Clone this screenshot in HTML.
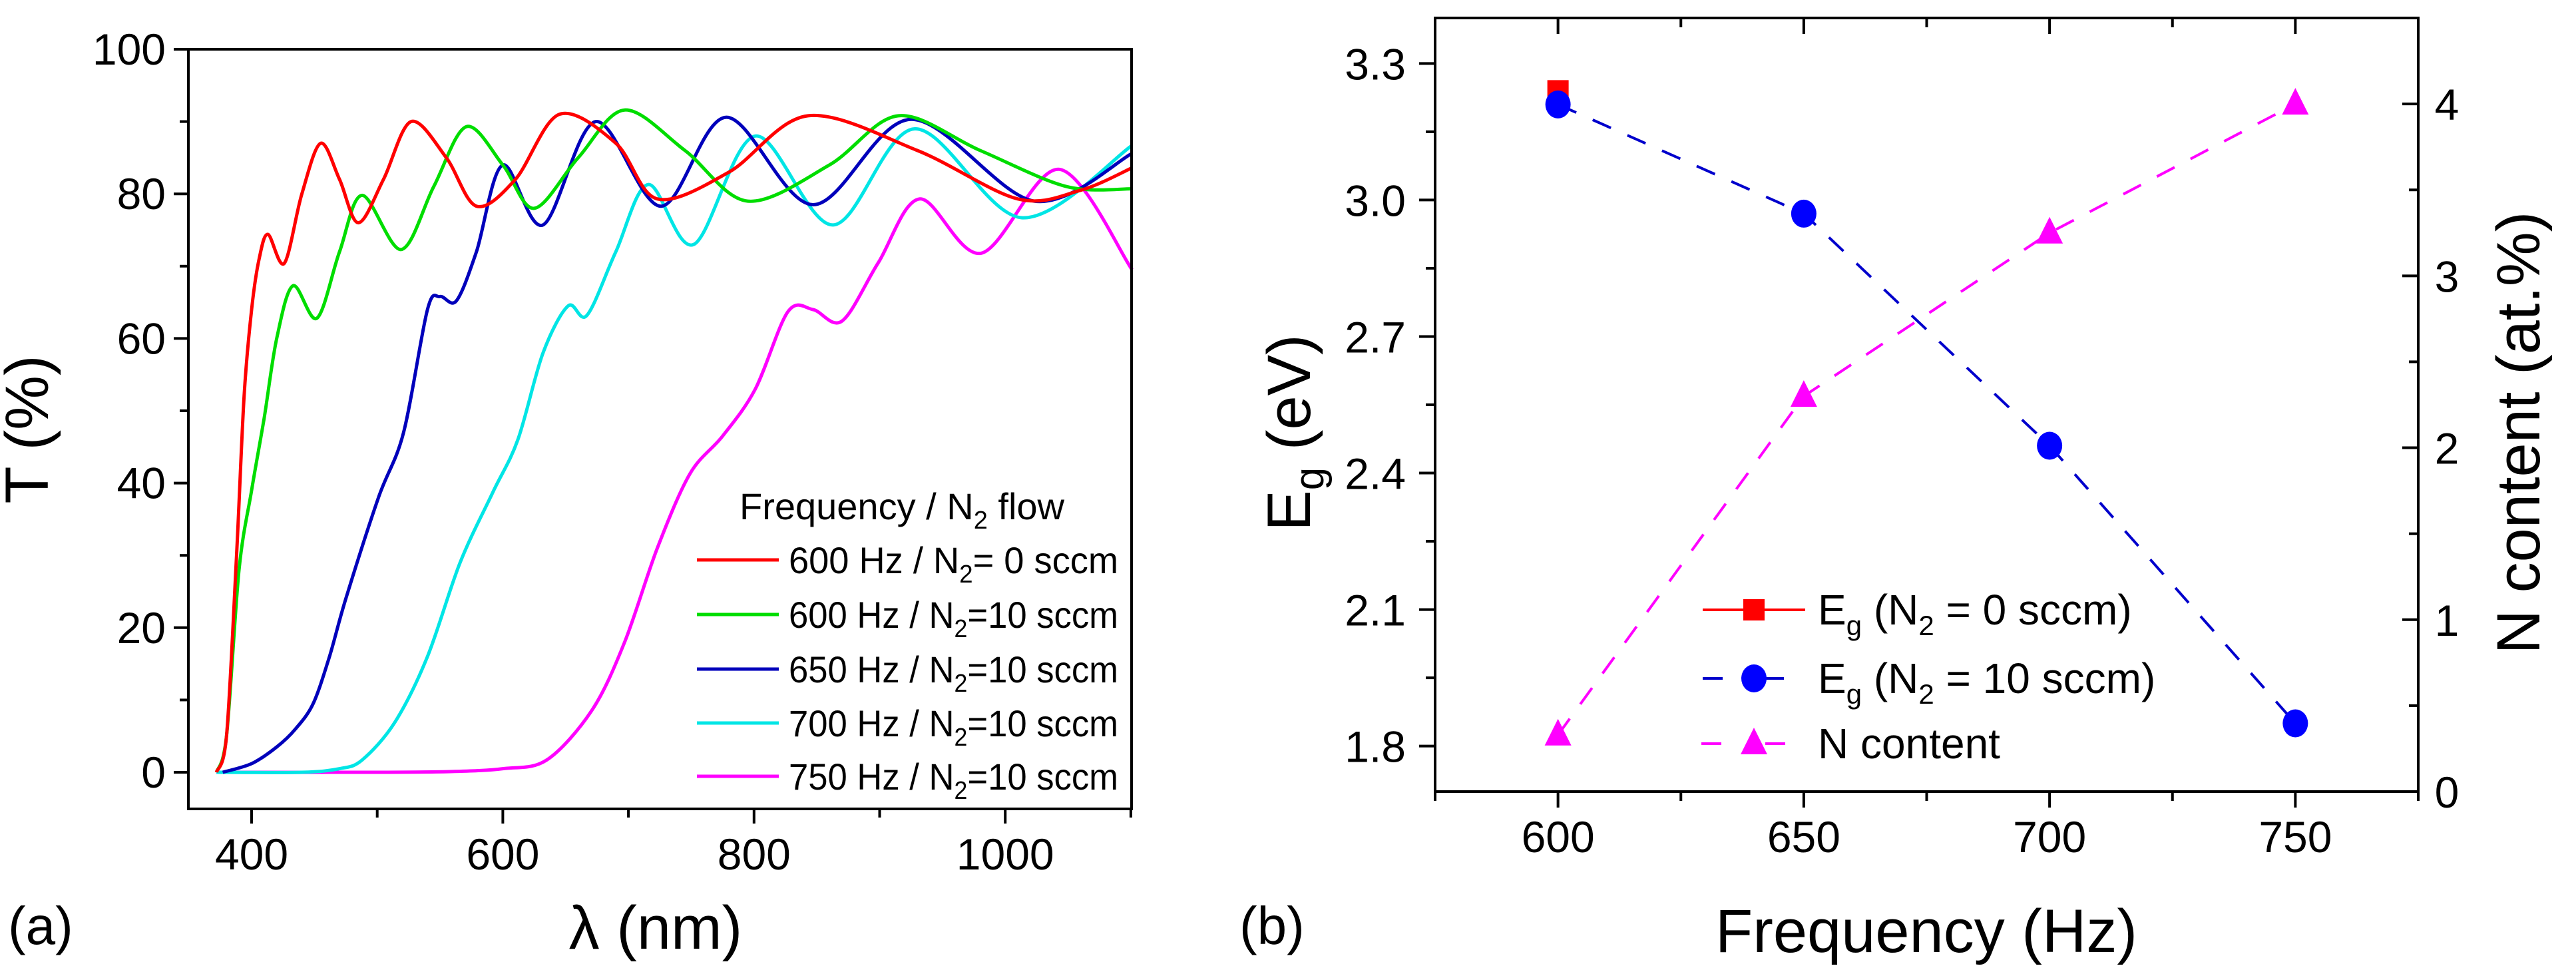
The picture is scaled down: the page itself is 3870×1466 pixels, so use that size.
<!DOCTYPE html>
<html><head><meta charset="utf-8"><style>
html,body{margin:0;padding:0;background:#fff;}
svg{display:block;font-family:"Liberation Sans",Arial,sans-serif;}
</style></head><body>
<svg id="fig" width="3870" height="1466" viewBox="0 0 3870 1466" xmlns="http://www.w3.org/2000/svg">
<g id="panelA"></g>
<g id="panelB"></g>
<text x="12" y="1418" font-size="80">(a)</text>
<text x="1862" y="1418" font-size="80">(b)</text>
</svg>
<script>
// ---------- Panel A data ----------
const aXTicks = [400,600,800,1000];
const aYTicks = [0,20,40,60,80,100];
const seriesNames = ["600 Hz / N2= 0 sccm","600 Hz / N2=10 sccm","650 Hz / N2=10 sccm","700 Hz / N2=10 sccm","750 Hz / N2=10 sccm"];
const seriesColors = ["#ff0000","#00dd00","#0000bb","#00e5e5","#ff00ff"];
const redLambda = [372,380,388,394,400,406,413,426,440,455,470,485,505,527,555,579,610,645,690,723,780,843,930,1010,1060,1101];
const redT      = [0,5,30,52,64,71,74.4,70.4,80,87,82,76,82,90,85,78.3,82,91,87,79.3,83,90.8,86,79.3,80.5,83.6];
const greenLambda = [372,380,390,400,410,420,433,452,470,488,519,545,571,600,625,660,697,745,795,860,915,980,1049,1101];
const greenT      = [0,5,28,39,49,60,67.3,62.8,72,79.8,72.3,81,89.3,84,78,85,91.6,86,79,84,90.8,86,81,80.7];
const blueLambda = [377,400,420,435,449,462,475,501,521,540,550,563,579,600,632,674,726,778,847,925,1023,1101];
const blueT      = [0,1.2,3.5,6,9.5,16,24,38,47,64,65.8,65.2,72,84,75.7,90,78.3,90.6,78.5,90.3,79,85.6];
const cyanLambda = [372,440,470,488,514,540,566,592,612,632,652,667,690,716,752,801,863,928,1013,1101];
const cyanT      = [0,0,0.5,1.7,6.9,16,29,38.7,46,58,64.5,63.2,72,81.3,73,88,75.7,89,76.7,86.7];
const magLambda = [372,500,560,600,635,671,697,723,749,775,801,827,847,870,899,932,981,1043,1101];
const magT      = [0,0,0.1,0.5,1.7,8.6,18,31,41.3,46.5,53,63.7,64,62.4,70.5,79.3,71.8,83.4,69.5];
// ---------- Panel B data ----------
const freqs = [600,650,700,750];
const eg0Freq = [600];
const eg0Vals = [3.24];
const eg10Vals = [3.21,2.97,2.46,1.85];
const nContent = [0.33,2.3,3.25,4.0];
const bXTicks = [600,650,700,750];
const bYTicks = [1.8,2.1,2.4,2.7,3.0,3.3];
const bYTickLabels = ["1.8","2.1","2.4","2.7","3.0","3.3"];
const bY2Ticks = [0,1,2,3,4];

const NS="http://www.w3.org/2000/svg";
function mk(tag, attrs, parent){const e=document.createElementNS(NS,tag);for(const k in attrs)e.setAttribute(k,attrs[k]);parent.appendChild(e);return e;}
function spline(pts){
  let d="M"+pts[0][0].toFixed(1)+","+pts[0][1].toFixed(1);
  for(let i=0;i<pts.length-1;i++){
    const p0=pts[Math.max(0,i-1)],p1=pts[i],p2=pts[i+1],p3=pts[Math.min(pts.length-1,i+2)];
    const t=0.16;
    const c1=[p1[0]+(p2[0]-p0[0])*t,p1[1]+(p2[1]-p0[1])*t];
    const c2=[p2[0]-(p3[0]-p1[0])*t,p2[1]-(p3[1]-p1[1])*t];
    d+=" C"+c1[0].toFixed(1)+","+c1[1].toFixed(1)+" "+c2[0].toFixed(1)+","+c2[1].toFixed(1)+" "+p2[0].toFixed(1)+","+p2[1].toFixed(1);
  }
  return d;
}
// ---------- Panel A ----------
const A=document.getElementById('panelA');
const aL=283,aR=1700,aT=74,aB=1215;
const ax=v=>378+(v-400)*1.887;
const ay=v=>1160-v*10.86;
const lambdas=[redLambda,greenLambda,blueLambda,cyanLambda,magLambda];
const tvals=[redT,greenT,blueT,cyanT,magT];
const curveNames=['curve-600hz-0sccm','curve-600hz-10sccm','curve-650hz-10sccm','curve-700hz-10sccm','curve-750hz-10sccm'];
for(let s=4;s>=0;s--){
  const pts=lambdas[s].map((l,i)=>[ax(l),ay(tvals[s][i])]);
  const p=mk('path',{d:spline(pts),fill:'none',stroke:seriesColors[s],'stroke-width':5,'stroke-linejoin':'round'},A);
  
  
}
const fa=mk('rect',{x:aL,y:aT,width:aR-aL,height:aB-aT,fill:'none',stroke:'#000','stroke-width':4},A);


for(let v=0;v<=100;v+=10){
  const t=mk('line',{x1:aL,x2:aL-(v%20===0?22:13),y1:ay(v),y2:ay(v),stroke:'#000','stroke-width':4},A);
  
  
}
aYTicks.forEach(v=>{
  const t=mk('text',{x:aL-34,y:ay(v)+23,'font-size':66,'text-anchor':'end'},A);t.textContent=v;
  
  
});
for(let v=400;v<=1100;v+=100){
  const t=mk('line',{x1:ax(v),x2:ax(v),y1:aB,y2:aB+(v%200===0?22:13),stroke:'#000','stroke-width':4},A);
  
  
}
aXTicks.forEach(v=>{
  const t=mk('text',{x:ax(v),y:1306,'font-size':66,'text-anchor':'middle'},A);t.textContent=v;
  
  
});
const yt=mk('text',{x:0,y:0,'font-size':92,'text-anchor':'middle',transform:'translate(72,645) rotate(-90)'},A);yt.textContent='T (%)';


const xt=mk('text',{x:985,y:1425,'font-size':92,'text-anchor':'middle'},A);xt.textContent='λ (nm)';


const lg=mk('g',{},A);


const lt=mk('text',{x:1111,y:780,'font-size':56},lg);
lt.innerHTML='Frequency / N<tspan font-size="38" dy="14">2</tspan><tspan dy="-14"> flow</tspan>';


const legY=[841,923,1005,1086,1166];
const legTxt=[["600 Hz / N","= 0 sccm"],["600 Hz / N","=10 sccm"],["650 Hz / N","=10 sccm"],["700 Hz / N","=10 sccm"],["750 Hz / N","=10 sccm"]];
for(let i=0;i<5;i++){
  const ln=mk('line',{x1:1047,x2:1170,y1:legY[i],y2:legY[i],stroke:seriesColors[i],'stroke-width':5},lg);
  
  
  const tx=mk('text',{x:1185,y:legY[i]+20,'font-size':56,textLength:495,lengthAdjust:'spacingAndGlyphs'},lg);
  tx.innerHTML=legTxt[i][0]+'<tspan font-size="38" dy="14">2</tspan><tspan dy="-14">'+legTxt[i][1]+'</tspan>';
  
  
}
// ---------- Panel B ----------
const B=document.getElementById('panelB');
const bL=2156,bR=3633,bT=27,bB=1189;
const bx=v=>bL+(v-575)*(bR-bL)/200;
const by=v=>bB-(v-1.7)*(bB-bT)/1.7;
const by2=v=>bB-v*(bB-bT)/4.5;
const fb=mk('rect',{x:bL,y:bT,width:bR-bL,height:bB-bT,fill:'none',stroke:'#000','stroke-width':4},B);


for(let v=575;v<=775;v+=25){
  const maj=(v%50===0);
  const t1=mk('line',{x1:bx(v),x2:bx(v),y1:bB,y2:bB+(maj?24:14),stroke:'#000','stroke-width':4},B);
  
  
  const t2=mk('line',{x1:bx(v),x2:bx(v),y1:bT,y2:bT+(maj?24:14),stroke:'#000','stroke-width':4},B);
  
  
}
bXTicks.forEach(v=>{
  const t=mk('text',{x:bx(v),y:1280,'font-size':66,'text-anchor':'middle'},B);t.textContent=v;
  
  
});
for(let k=0;k<=10;k++){
  const v=1.8+k*0.15;
  if(v>3.4)break;
  const t=mk('line',{x1:bL,x2:bL-(k%2===0?24:14),y1:by(v),y2:by(v),stroke:'#000','stroke-width':4},B);
  
  
}
bYTicks.forEach((v,i)=>{
  const t=mk('text',{x:2112,y:by(v)+24,'font-size':66,'text-anchor':'end'},B);t.textContent=bYTickLabels[i];
  
  
});
for(let v=0;v<=4.5;v+=0.5){
  const t=mk('line',{x1:bR,x2:bR-(v%1===0?24:14),y1:by2(v),y2:by2(v),stroke:'#000','stroke-width':4},B);
  
  
}
bY2Ticks.forEach(v=>{
  const t=mk('text',{x:3676,y:by2(v)+24,'font-size':66,'text-anchor':'middle'},B);t.textContent=v;
  
  
});
const ybt=mk('text',{x:0,y:0,'font-size':92,'text-anchor':'middle',transform:'translate(1968,650) rotate(-90)'},B);
ybt.innerHTML='E<tspan font-size="62" dy="20">g</tspan><tspan dy="-20"> (eV)</tspan>';


const y2t=mk('text',{x:0,y:0,'font-size':92,'text-anchor':'middle',transform:'translate(3815,650) rotate(-90)'},B);
y2t.textContent='N content (at.%)';


const xbt=mk('text',{x:2894,y:1430,'font-size':92,'text-anchor':'middle'},B);xbt.textContent='Frequency (Hz)';


const nLine=mk('polyline',{points:freqs.map((f,i)=>bx(f)+','+by2(nContent[i])).join(' '),fill:'none',stroke:'#ff00ff','stroke-width':4,'stroke-dasharray':'30 27'},B);


const eLine=mk('polyline',{points:freqs.map((f,i)=>bx(f)+','+by(eg10Vals[i])).join(' '),fill:'none',stroke:'#0000cc','stroke-width':4,'stroke-dasharray':'30 27'},B);


function tri(cx,cy,s){return (cx)+','+(cy-s*0.6)+' '+(cx-s/2)+','+(cy+s*0.4)+' '+(cx+s/2)+','+(cy+s*0.4);}
freqs.forEach((f,i)=>{
  const m=mk('polygon',{points:tri(bx(f),by2(nContent[i]),40),fill:'#ff00ff'},B);
  
  
});
eg0Freq.forEach((f,i)=>{
  const m=mk('rect',{x:bx(f)-16,y:by(eg0Vals[i])-16,width:32,height:32,fill:'#ff0000'},B);
  
  
});
freqs.forEach((f,i)=>{
  const m=mk('ellipse',{cx:bx(f),cy:by(eg10Vals[i]),rx:19,ry:21,fill:'#0000ff'},B);
  
  
});
const lb=mk('g',{},B);


const lbY=[916,1019,1117];
const l1=mk('line',{x1:2558,x2:2712,y1:lbY[0],y2:lbY[0],stroke:'#ff0000','stroke-width':4},lb);


const s1=mk('rect',{x:2619,y:lbY[0]-16,width:32,height:32,fill:'#ff0000'},lb);


const l2=mk('line',{x1:2558,x2:2712,y1:lbY[1],y2:lbY[1],stroke:'#0000cc','stroke-width':4,'stroke-dasharray':'30 62'},lb);


const s2=mk('ellipse',{cx:2635,cy:lbY[1],rx:19,ry:21,fill:'#0000ff'},lb);


const l3=mk('line',{x1:2556,x2:2712,y1:lbY[2],y2:lbY[2],stroke:'#ff00ff','stroke-width':4,'stroke-dasharray':'30 66'},lb);


const s3=mk('polygon',{points:tri(2635,lbY[2],40),fill:'#ff00ff'},lb);


const tb1=mk('text',{x:2731,y:lbY[0]+22,'font-size':64},lb);
tb1.innerHTML='E<tspan font-size="42" dy="16">g</tspan><tspan dy="-16"> (N</tspan><tspan font-size="42" dy="16">2</tspan><tspan dy="-16"> =  0 sccm)</tspan>';


const tb2=mk('text',{x:2731,y:lbY[1]+22,'font-size':64},lb);
tb2.innerHTML='E<tspan font-size="42" dy="16">g</tspan><tspan dy="-16"> (N</tspan><tspan font-size="42" dy="16">2</tspan><tspan dy="-16"> = 10 sccm)</tspan>';


const tb3=mk('text',{x:2731,y:lbY[2]+22,'font-size':64},lb);
tb3.textContent='N content';


</script>
</body></html>
